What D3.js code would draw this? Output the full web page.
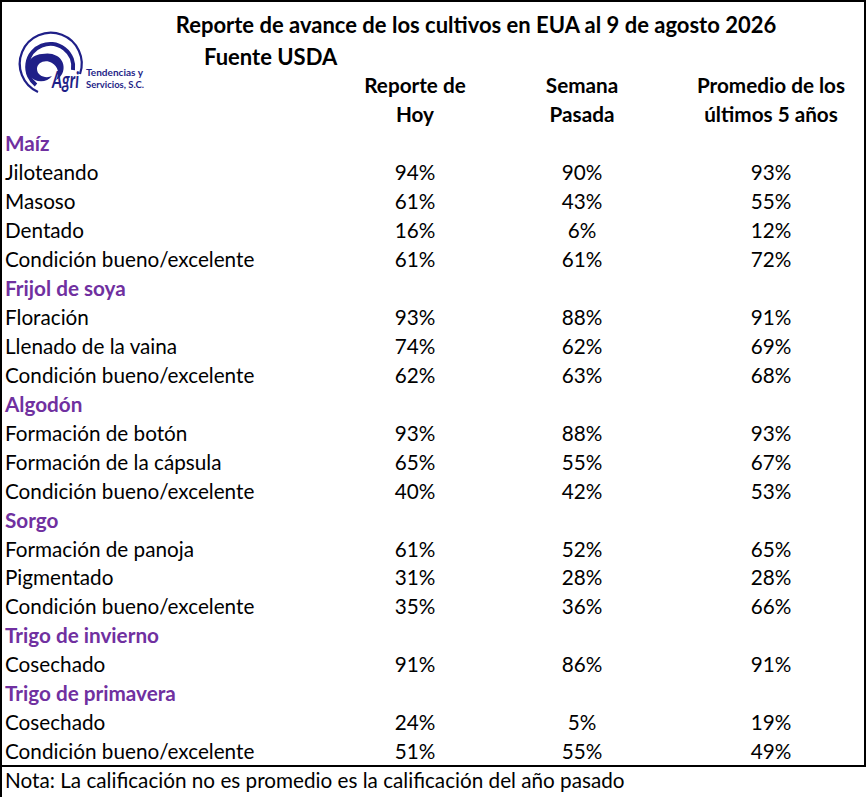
<!DOCTYPE html>
<html><head><meta charset="utf-8">
<script src="https://cdn.jsdelivr.net/npm/d3@7"></script>
<style>
html,body{margin:0;padding:0;background:#fff;}
svg{display:block;}
text{font-family:Lato,"Open Sans",sans-serif;}
</style></head>
<body><div id="chart"></div>
<script>
const title = "Reporte de avance de los cultivos en EUA al 9 de agosto 2026";
const subtitle = "Fuente USDA";
const columns = [["Reporte de","Hoy"],["Semana","Pasada"],["Promedio de los","últimos 5 años"]];
const sections = ["Maíz","Frijol de soya","Algodón","Sorgo","Trigo de invierno","Trigo de primavera"];
const labels = ["Jiloteando","Masoso","Dentado","Condición bueno/excelente",
  "Floración","Llenado de la vaina","Condición bueno/excelente",
  "Formación de botón","Formación de la cápsula","Condición bueno/excelente",
  "Formación de panoja","Pigmentado","Condición bueno/excelente",
  "Cosechado",
  "Cosechado","Condición bueno/excelente"];
const sectionOf = [0,0,0,0,1,1,1,2,2,2,3,3,3,4,5,5];
const hoy =      [94,61,16,61, 93,74,62, 93,65,40, 61,31,35, 91, 24,51];
const semana =   [90,43, 6,61, 88,62,63, 88,55,42, 52,28,36, 86,  5,55];
const promedio = [93,55,12,72, 91,69,68, 93,67,53, 65,28,66, 91, 19,49];
const note = "Nota: La calificación no es promedio es la calificación del año pasado";

const W = 868, H = 797;
const FS = 20.7;
const svg = d3.select("#chart").append("svg").attr("width", W).attr("height", H);

// build row list
const rows = [];
labels.forEach((l, i) => {
  if (i === 0 || sectionOf[i] !== sectionOf[i-1]) rows.push({type:"section", text: sections[sectionOf[i]]});
  rows.push({type:"item", text:l, vals:[hoy[i], semana[i], promedio[i]]});
});

const y = d3.scaleLinear().domain([0, rows.length]).range([144, 144 + rows.length * 28.95]);
const x = d3.scaleOrdinal().domain([0,1,2]).range([415, 582, 771]);

// borders
svg.append("rect").attr("x",1).attr("y",1).attr("width",864).attr("height",765)
  .attr("fill","none").attr("stroke","#000").attr("stroke-width",2);
svg.append("line").attr("x1",1).attr("x2",1).attr("y1",0).attr("y2",H).attr("stroke","#000").attr("stroke-width",2);

// logo
const logo = svg.append("g").attr("fill","#1f1f88").attr("stroke","#1f1f88");
logo.append("path").attr("d","M 38 92 A 31 31 0 1 1 80 74").attr("fill","none").attr("stroke-width",2.2);
logo.append("path").attr("d","M 36 85 A 23 23 0 1 1 73 70").attr("fill","none").attr("stroke-width",4);
logo.append("path").attr("stroke","none")
  .attr("d","M 42 54 C 28 55 24 68 30 76 C 35 83 47 83 52 76 C 46 79 37 76 37 69 C 37 62 46 59 52 63 C 58 67 60 73 56 80 C 66 75 66 61 57 56 C 52 53 47 53 42 54 Z");
logo.append("text").attr("x",52).attr("y",88).attr("font-size",22).attr("font-weight","bold")
  .attr("font-style","italic").attr("stroke","none").attr("textLength",27).attr("lengthAdjust","spacingAndGlyphs").text("Agri");
logo.append("text").attr("x",86).attr("y",76).attr("font-size",9).attr("font-weight","bold").attr("stroke","none")
  .attr("textLength",57).attr("lengthAdjust","spacingAndGlyphs").text("Tendencias y");
logo.append("text").attr("x",86).attr("y",87.5).attr("font-size",9).attr("font-weight","bold").attr("stroke","none")
  .attr("textLength",58).attr("lengthAdjust","spacingAndGlyphs").text("Servicios, S.C.");

// title
svg.append("text").attr("x",476).attr("y",25).attr("dy","0.35em").attr("text-anchor","middle")
  .attr("font-size",22).attr("font-weight","bold").text(title);
svg.append("text").attr("x",204).attr("y",57).attr("dy","0.35em")
  .attr("font-size",22).attr("font-weight","bold").text(subtitle);

// column headers
columns.forEach((c, i) => {
  c.forEach((t, j) => {
    svg.append("text").attr("x", x(i)).attr("y", 86 + j*29).attr("dy","0.35em")
      .attr("text-anchor","middle").attr("font-size",FS).attr("font-weight","bold").text(t);
  });
});

// rows
const g = svg.append("g");
rows.forEach((r, i) => {
  if (r.type === "section") {
    g.append("text").attr("x",5).attr("y",y(i)).attr("dy","0.35em").attr("font-size",FS)
      .attr("font-weight","bold").attr("fill","#7030a0").text(r.text);
  } else {
    g.append("text").attr("x",5).attr("y",y(i)).attr("dy","0.35em").attr("font-size",FS).text(r.text);
    r.vals.forEach((v, k) => {
      g.append("text").attr("x",x(k)).attr("y",y(i)).attr("dy","0.35em").attr("text-anchor","middle")
        .attr("font-size",FS).text(v + "%");
    });
  }
});

svg.append("text").attr("x",5).attr("y",y(rows.length)).attr("dy","0.35em").attr("font-size",FS).text(note);
</script></body></html>
